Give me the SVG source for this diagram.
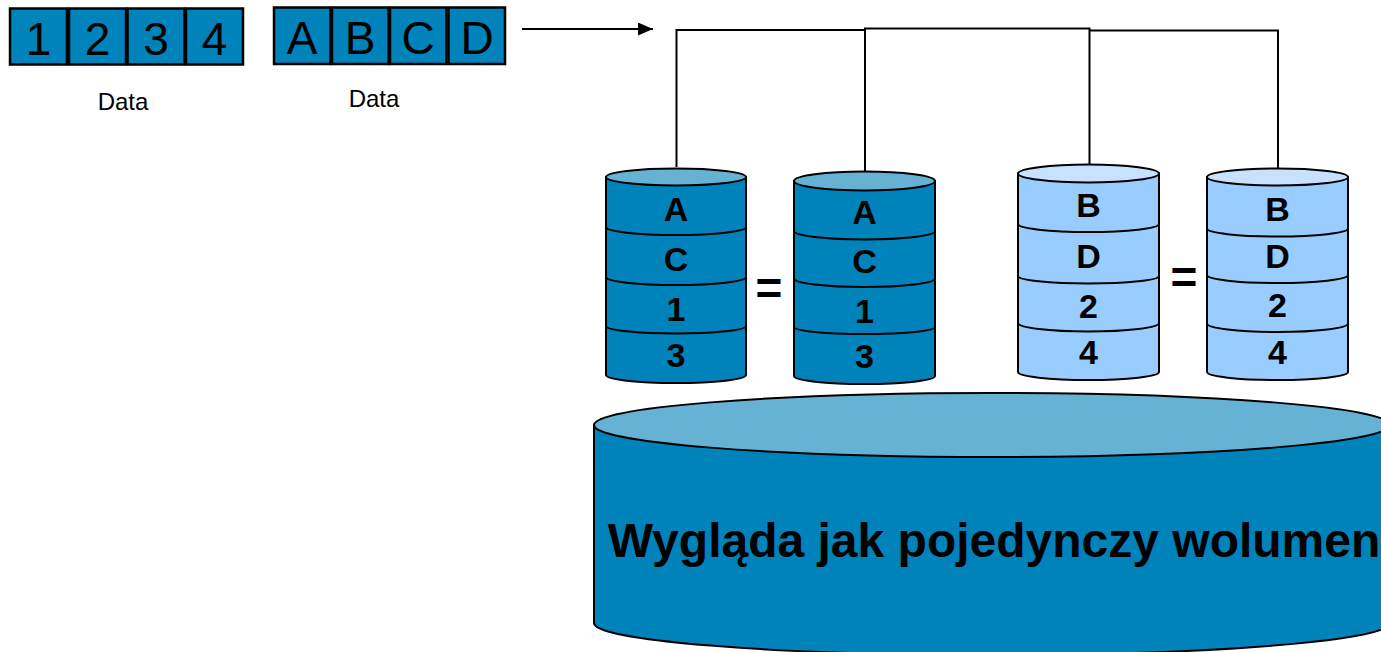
<svg xmlns="http://www.w3.org/2000/svg" width="1381" height="652" viewBox="0 0 1381 652">
  <defs>
    <style>
      .box { fill: #0082BA; stroke: #000; stroke-width: 2.5; }
      .boxtxt { font-family: "Liberation Sans", Arial, sans-serif; font-size: 46px; fill: #000; text-anchor: middle; }
      .cap { font-family: "Liberation Sans", Arial, sans-serif; font-size: 24px; fill: #000; text-anchor: middle; }
      .dark { fill: #0082BA; stroke: #000; stroke-width: 2; }
      .darktop { fill: #66B2D5; stroke: #000; stroke-width: 2; }
      .light { fill: #99CCFF; stroke: #000; stroke-width: 2; }
      .lighttop { fill: #C7E2FF; stroke: #000; stroke-width: 2; }
      .band { fill: none; stroke: #000; stroke-width: 2; }
      .lbl { font-family: "Liberation Sans", Arial, sans-serif; font-size: 34px; font-weight: bold; fill: #000; text-anchor: middle; }
      .eq { font-family: "Liberation Sans", Arial, sans-serif; font-size: 46px; font-weight: bold; fill: #000; text-anchor: middle; }
      .big { font-family: "Liberation Sans", Arial, sans-serif; font-size: 48px; font-weight: bold; fill: #000; text-anchor: middle; }
      .wire { fill: none; stroke: #000; stroke-width: 2; }
    </style>
    <marker id="arrow" viewBox="0 0 15 13" refX="15" refY="6.5" markerWidth="15" markerHeight="13" markerUnits="userSpaceOnUse" orient="auto">
      <path d="M0,0 L15,6.5 L0,13 Z" fill="#000"/>
    </marker>
  </defs>

  <!-- data blocks: digits -->
  <g id="data-digits">
    <rect class="box" x="10" y="8.5" width="57" height="56"/>
    <rect class="box" x="69" y="8.5" width="57" height="56"/>
    <rect class="box" x="127.5" y="8.5" width="57" height="56"/>
    <rect class="box" x="186" y="8.5" width="57" height="56"/>
    <text class="boxtxt" x="38.5" y="55">1</text>
    <text class="boxtxt" x="97.5" y="55">2</text>
    <text class="boxtxt" x="156" y="55">3</text>
    <text class="boxtxt" x="214.5" y="55">4</text>
    <text class="cap" x="123" y="110">Data</text>
  </g>

  <!-- data blocks: letters -->
  <g id="data-letters">
    <rect class="box" x="274" y="7.5" width="56.5" height="56.5"/>
    <rect class="box" x="332" y="7.5" width="56.5" height="56.5"/>
    <rect class="box" x="390" y="7.5" width="56.5" height="56.5"/>
    <rect class="box" x="448.5" y="7.5" width="56.5" height="56.5"/>
    <text class="boxtxt" x="302" y="54">A</text>
    <text class="boxtxt" x="360" y="54">B</text>
    <text class="boxtxt" x="418" y="54">C</text>
    <text class="boxtxt" x="477" y="54">D</text>
    <text class="cap" x="374" y="107">Data</text>
  </g>

  <!-- connectors -->
  <g id="connectors">
    <line class="wire" x1="522" y1="29" x2="653" y2="29" marker-end="url(#arrow)"/>
    <path class="wire" d="M676.5,167 V30 H865"/>
    <path class="wire" d="M865,178 V28.5 H1089.5 V171"/>
    <path class="wire" d="M1089.5,30.5 H1278 V168"/>
  </g>

  <!-- disk 1 -->
  <g id="disk1">
    <path class="dark" d="M606,177 V375 A70,8 0 0 0 746,375 V177 Z"/>
    <ellipse class="darktop" cx="676" cy="177" rx="70" ry="8.5"/>
    <path class="band" d="M606,227 A70,8 0 0 0 746,227"/>
    <path class="band" d="M606,277 A70,8 0 0 0 746,277"/>
    <path class="band" d="M606,326 A70,7.5 0 0 0 746,326"/>
    <text class="lbl" x="676" y="221">A</text>
    <text class="lbl" x="676" y="271">C</text>
    <text class="lbl" x="676" y="321">1</text>
    <text class="lbl" x="676" y="367">3</text>
  </g>

  <!-- disk 2 -->
  <g id="disk2">
    <path class="dark" d="M794,181 V376 A70.5,8 0 0 0 935,376 V181 Z"/>
    <ellipse class="darktop" cx="864.5" cy="181" rx="70.5" ry="9.5"/>
    <path class="band" d="M794,231 A70.5,8.5 0 0 0 935,231"/>
    <path class="band" d="M794,278.5 A70.5,8.5 0 0 0 935,278.5"/>
    <path class="band" d="M794,327 A70.5,7 0 0 0 935,327"/>
    <text class="lbl" x="864.5" y="224">A</text>
    <text class="lbl" x="864.5" y="273">C</text>
    <text class="lbl" x="864.5" y="323">1</text>
    <text class="lbl" x="864.5" y="368">3</text>
  </g>

  <text id="eq1" class="eq" x="769" y="304">=</text>

  <!-- disk 3 -->
  <g id="disk3">
    <path class="light" d="M1018,173.5 V372 A70.5,8 0 0 0 1159,372 V173.5 Z"/>
    <ellipse class="lighttop" cx="1088.5" cy="173.5" rx="70.5" ry="9"/>
    <path class="band" d="M1018,224 A70.5,8 0 0 0 1159,224"/>
    <path class="band" d="M1018,276 A70.5,7.5 0 0 0 1159,276"/>
    <path class="band" d="M1018,323 A70.5,8.5 0 0 0 1159,323"/>
    <text class="lbl" x="1088.5" y="217">B</text>
    <text class="lbl" x="1088.5" y="268">D</text>
    <text class="lbl" x="1088.5" y="318">2</text>
    <text class="lbl" x="1088.5" y="364">4</text>
  </g>

  <!-- disk 4 -->
  <g id="disk4">
    <path class="light" d="M1207,177 V372 A70.5,8 0 0 0 1348,372 V177 Z"/>
    <ellipse class="lighttop" cx="1277.5" cy="177" rx="70.5" ry="8.5"/>
    <path class="band" d="M1207,228.5 A70.5,8 0 0 0 1348,228.5"/>
    <path class="band" d="M1207,275 A70.5,8 0 0 0 1348,275"/>
    <path class="band" d="M1207,323.5 A70.5,8.5 0 0 0 1348,323.5"/>
    <text class="lbl" x="1277.5" y="221">B</text>
    <text class="lbl" x="1277.5" y="268">D</text>
    <text class="lbl" x="1277.5" y="317">2</text>
    <text class="lbl" x="1277.5" y="364">4</text>
  </g>

  <text id="eq2" class="eq" x="1184" y="293">=</text>

  <!-- combined volume -->
  <g id="volume">
    <path class="dark" d="M594,425 V623 A398,32 0 0 0 1390,623 V425 Z"/>
    <ellipse class="darktop" cx="992" cy="425" rx="398" ry="32"/>
    <text class="big" x="994" y="557">Wygląda jak pojedynczy wolumen</text>
  </g>
</svg>
